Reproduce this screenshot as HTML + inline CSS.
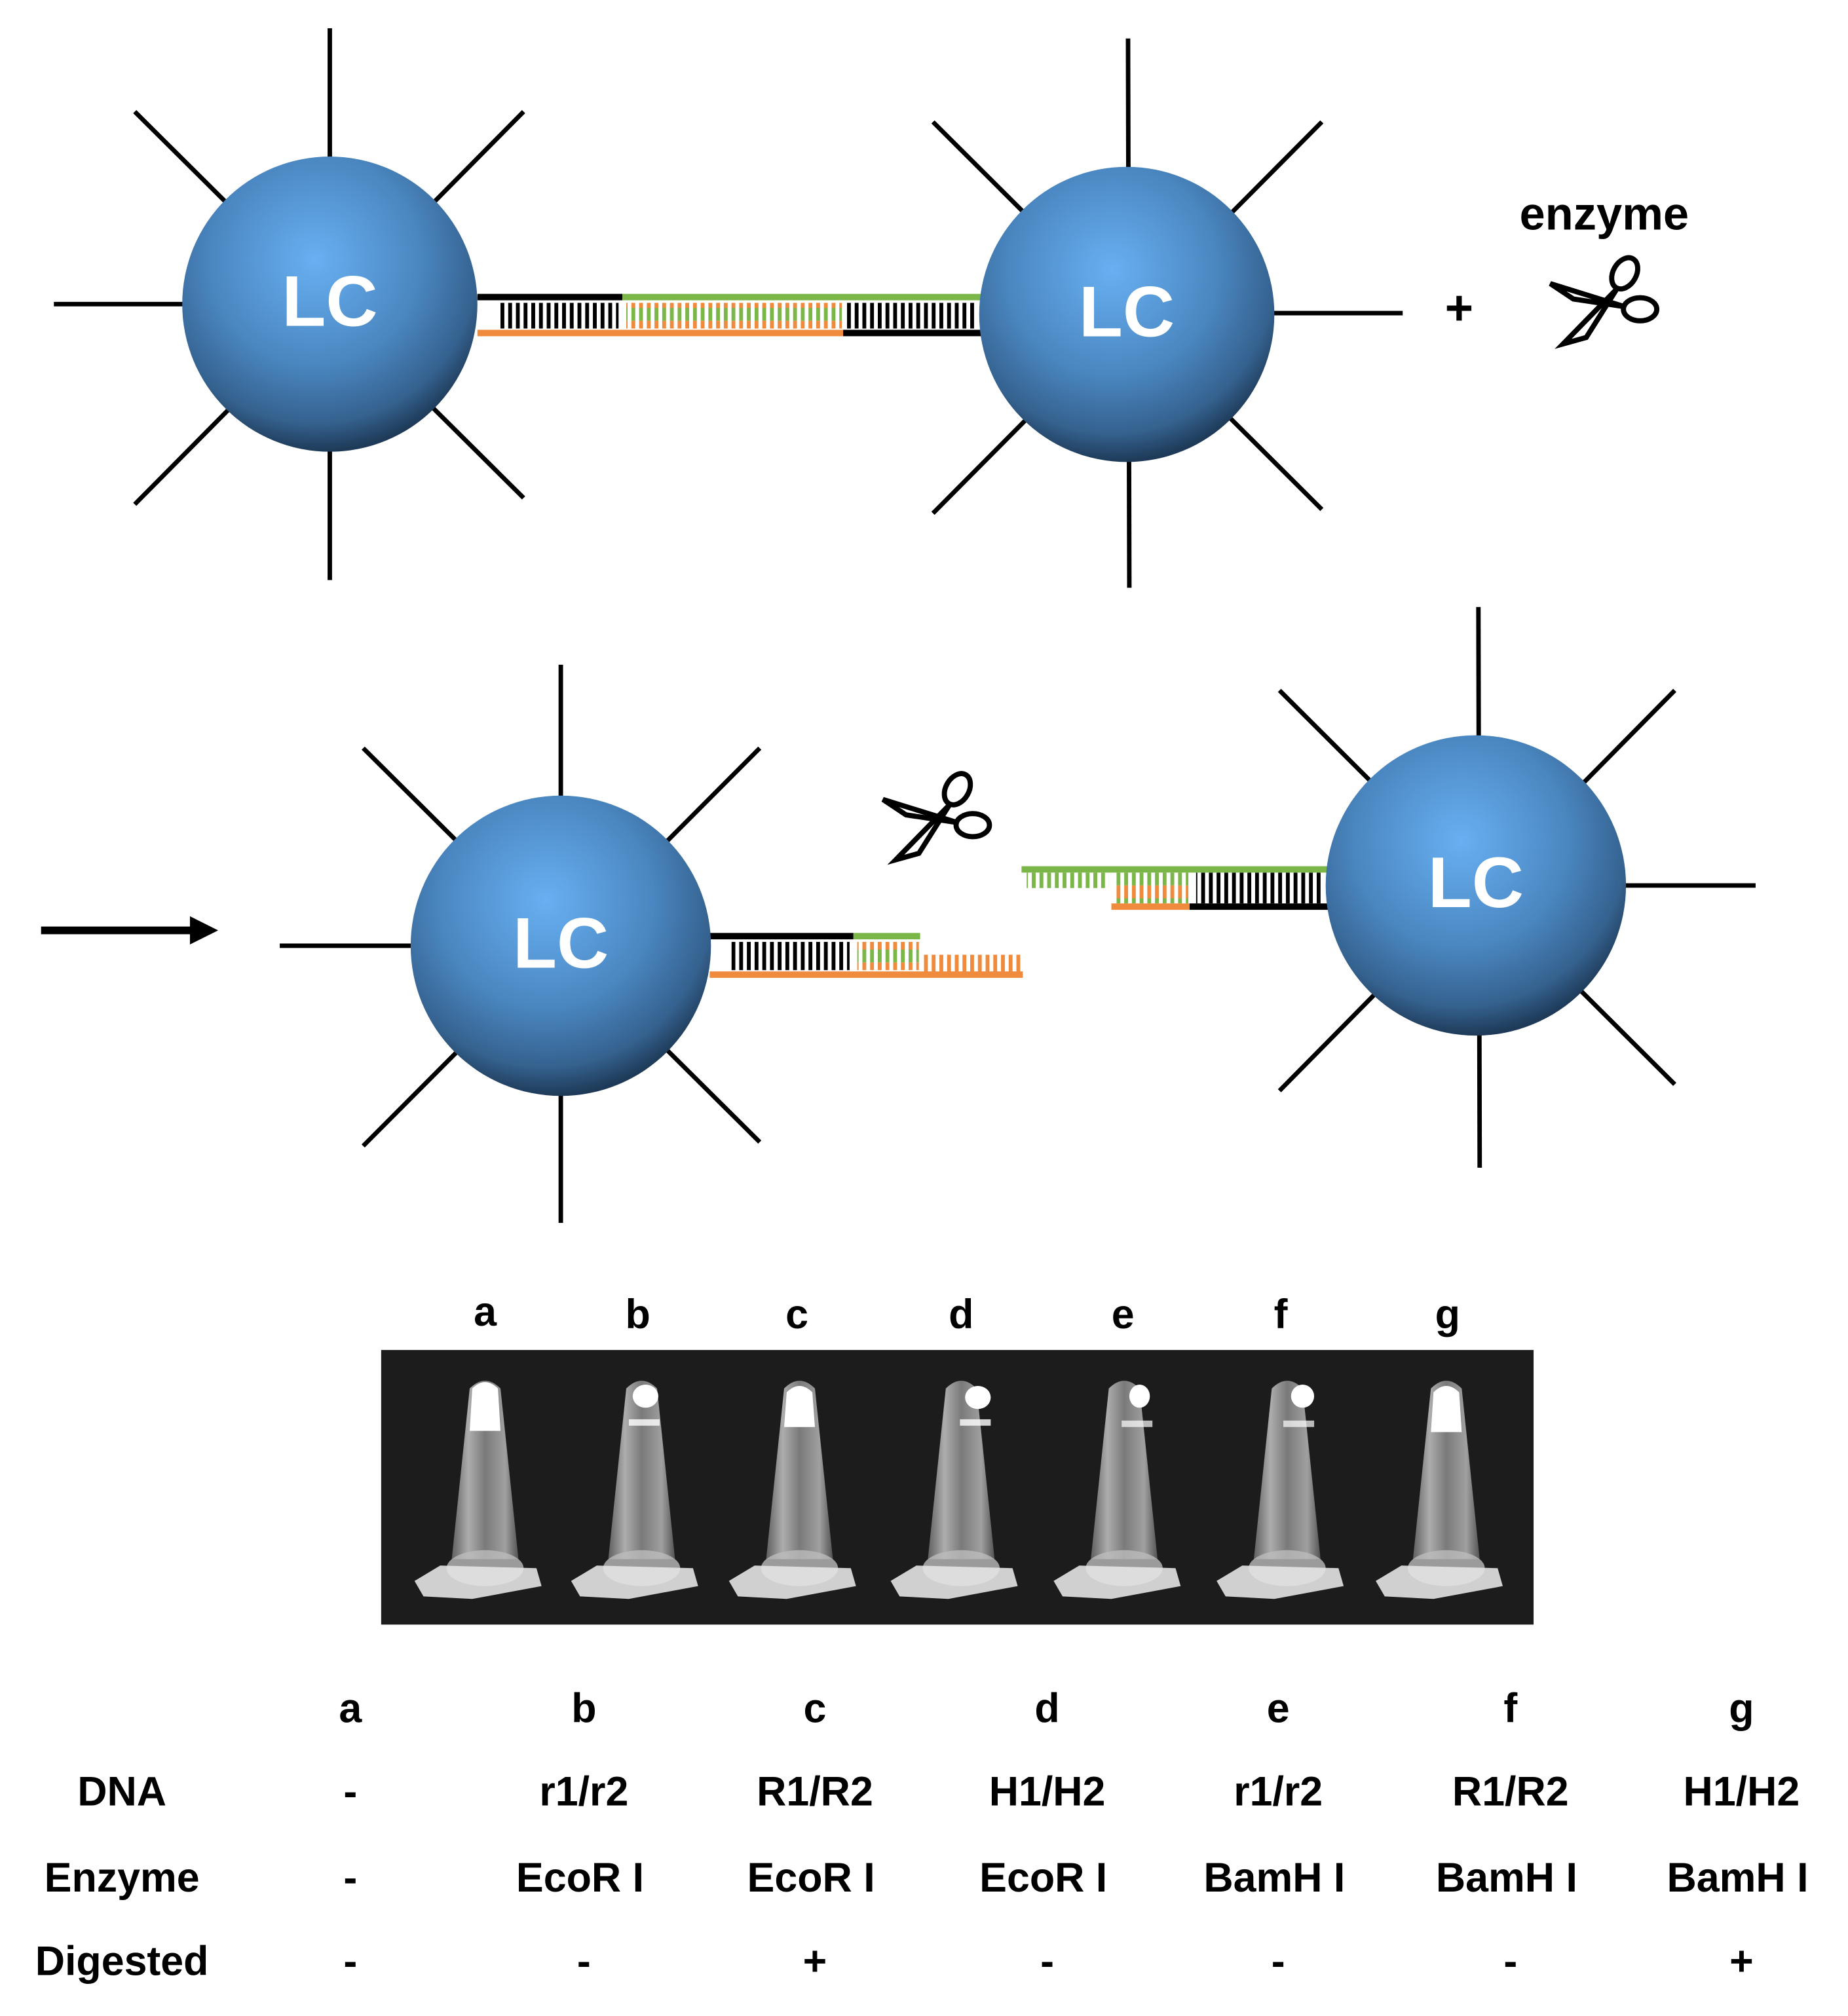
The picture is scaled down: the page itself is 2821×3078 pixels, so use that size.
<!DOCTYPE html>
<html><head><meta charset="utf-8"><style>
html,body{margin:0;padding:0;background:#fff}
svg{display:block}
text{font-family:"Liberation Sans",sans-serif;font-weight:bold}
</style></head><body>
<svg width="2821" height="3078" viewBox="0 0 1440 1571" preserveAspectRatio="none" xmlns="http://www.w3.org/2000/svg">
<defs>
<radialGradient id="sg" cx="0.45" cy="0.35" r="0.65">
<stop offset="0" stop-color="#68b0f2"/>
<stop offset="0.55" stop-color="#4a86c0"/>
<stop offset="0.85" stop-color="#35628f"/>
<stop offset="1" stop-color="#1e3a58"/>
</radialGradient>
<pattern id="rk" width="6" height="20" patternUnits="userSpaceOnUse"><rect x="0" width="3" height="20" fill="#000"/></pattern>
<pattern id="rg" width="6" height="20" patternUnits="userSpaceOnUse"><rect x="0" width="3" height="10" fill="#7ab648"/><rect x="0" y="10" width="3" height="10" fill="#f08a3c"/></pattern>
<pattern id="rgo" width="6" height="14" patternUnits="userSpaceOnUse"><rect x="0" width="3" height="14" fill="#7ab648"/></pattern>
<pattern id="roo" width="6" height="14" patternUnits="userSpaceOnUse"><rect x="0" width="3" height="14" fill="#f08a3c"/></pattern>
<linearGradient id="tube" x1="0" x2="1"><stop offset="0" stop-color="#777"/><stop offset="0.25" stop-color="#ddd"/><stop offset="0.5" stop-color="#999"/><stop offset="0.8" stop-color="#ccc"/><stop offset="1" stop-color="#666"/></linearGradient>
<g id="sc" fill="none" stroke="#000" stroke-width="4">
<ellipse cx="18" cy="-20" rx="9" ry="13" transform="rotate(30 18 -20)"/>
<ellipse cx="30" cy="8" rx="13" ry="9"/>
<path d="M-40 -12 L18 6 L-22 0 Z" fill="#fff"/>
<path d="M-30 35 L12 -8 L-12 30 Z" fill="#fff"/>
</g>
<g id="t">
<path d="M-12 1082 Q0 1070 12 1082 L26 1215 L-26 1215 Z" fill="url(#tube)" opacity="0.75"/>
<ellipse cx="0" cy="1222" rx="30" ry="14" fill="#bbb" opacity="0.8"/>
<path d="M-55 1232 L-35 1220 L40 1222 L44 1236 L-10 1246 L-48 1244 Z" fill="#e4e4e4" opacity="0.9"/>
</g>
</defs>

<g stroke="#000" stroke-width="3.5">
<line x1="257" y1="22" x2="257" y2="452"/><line x1="42" y1="237" x2="150" y2="237"/>
<line x1="105" y1="87" x2="408" y2="388"/><line x1="408" y1="87" x2="105" y2="393"/>
<line x1="879" y1="30" x2="880" y2="458"/><line x1="990" y1="244" x2="1093" y2="244"/>
<line x1="727" y1="95" x2="1030" y2="397"/><line x1="1030" y1="95" x2="727" y2="400"/>
<line x1="437" y1="518" x2="437" y2="953"/><line x1="218" y1="737" x2="330" y2="737"/>
<line x1="283" y1="583" x2="592" y2="890"/><line x1="592" y1="583" x2="283" y2="893"/>
<line x1="1152" y1="473" x2="1153" y2="910"/><line x1="1260" y1="690" x2="1368" y2="690"/>
<line x1="997" y1="538" x2="1305" y2="845"/><line x1="1305" y1="538" x2="997" y2="850"/>
</g>

<rect x="388" y="236" width="94" height="20" fill="url(#rk)"/>
<rect x="488" y="236" width="168" height="20" fill="url(#rg)"/>
<rect x="660" y="236" width="100" height="20" fill="url(#rk)"/>
<rect x="372" y="229" width="113" height="5" fill="#000"/>
<rect x="485" y="229" width="280" height="5" fill="#7ab648"/>
<rect x="372" y="257" width="285" height="5" fill="#f08a3c"/>
<rect x="657" y="257" width="108" height="5" fill="#000"/>

<rect x="570" y="734" width="92" height="22" fill="url(#rk)"/>
<rect x="668" y="734" width="48" height="22" fill="url(#rg)"/>
<rect x="720" y="744" width="75" height="14" fill="url(#roo)"/>
<rect x="553" y="727" width="112" height="5" fill="#000"/>
<rect x="665" y="727" width="52" height="5" fill="#7ab648"/>
<rect x="553" y="757" width="244" height="5" fill="#f08a3c"/>

<rect x="800" y="680" width="64" height="12" fill="url(#rgo)"/>
<rect x="870" y="680" width="56" height="24" fill="url(#rg)"/>
<rect x="932" y="680" width="98" height="24" fill="url(#rk)"/>
<rect x="796" y="675" width="239" height="5" fill="#7ab648"/>
<rect x="866" y="704" width="61" height="5" fill="#f08a3c"/>
<rect x="927" y="704" width="108" height="5" fill="#000"/>

<g font-size="56" fill="#fff" text-anchor="middle">
<circle cx="257" cy="237" r="115" fill="url(#sg)"/><text x="257" y="254">LC</text>
<circle cx="878" cy="245" r="115" fill="url(#sg)"/><text x="878" y="262">LC</text>
<circle cx="437" cy="737" r="117" fill="url(#sg)"/><text x="437" y="754">LC</text>
<circle cx="1150" cy="690" r="117" fill="url(#sg)"/><text x="1150" y="707">LC</text>
</g>

<text x="1137" y="253" font-size="38" text-anchor="middle">+</text>
<text x="1250" y="179" font-size="36" text-anchor="middle">enzyme</text>
<use href="#sc" x="1248" y="233"/>
<use href="#sc" x="728" y="635"/>

<line x1="32" y1="725" x2="150" y2="725" stroke="#000" stroke-width="6"/>
<path d="M148 714 L170 725 L148 736 Z" fill="#000"/>

<g font-size="32" text-anchor="middle" fill="#000">
<text x="378" y="1033">a</text><text x="497" y="1035">b</text><text x="621" y="1035">c</text><text x="749" y="1035">d</text><text x="875" y="1035">e</text><text x="998" y="1035">f</text><text x="1128" y="1035">g</text>
</g>
<rect x="297" y="1052" width="898" height="214" fill="#1c1c1c"/>
<g>
<use href="#t" x="378"/><use href="#t" x="500"/><use href="#t" x="623"/><use href="#t" x="749"/><use href="#t" x="876"/><use href="#t" x="1003"/><use href="#t" x="1127"/>
</g>
<g fill="#fff">
<path d="M366 1115 L368 1082 Q378 1072 388 1082 L390 1115 Z"/>
<path d="M611 1112 L613 1085 Q623 1075 633 1085 L635 1112 Z"/>
<path d="M1115 1116 L1117 1085 Q1127 1075 1137 1085 L1139 1116 Z"/>
<ellipse cx="503" cy="1088" rx="10" ry="9"/><ellipse cx="762" cy="1089" rx="10" ry="9"/><ellipse cx="888" cy="1088" rx="8" ry="9"/><ellipse cx="1015" cy="1088" rx="9" ry="9"/>
<rect x="490" y="1106" width="24" height="5" opacity="0.8"/><rect x="748" y="1106" width="24" height="5" opacity="0.8"/><rect x="874" y="1107" width="24" height="5" opacity="0.7"/><rect x="1000" y="1107" width="24" height="5" opacity="0.7"/>
</g>

<g font-size="32" text-anchor="middle" fill="#000">
<text x="273" y="1342">a</text><text x="455" y="1342">b</text><text x="635" y="1342">c</text><text x="816" y="1342">d</text><text x="996" y="1342">e</text><text x="1177" y="1342">f</text><text x="1357" y="1342">g</text>
<text x="95" y="1407">DNA</text><text x="273" y="1407">-</text><text x="455" y="1407">r1/r2</text><text x="635" y="1407">R1/R2</text><text x="816" y="1407">H1/H2</text><text x="996" y="1407">r1/r2</text><text x="1177" y="1407">R1/R2</text><text x="1357" y="1407">H1/H2</text>
<text x="95" y="1474">Enzyme</text><text x="273" y="1474">-</text><text x="452" y="1474">EcoR I</text><text x="632" y="1474">EcoR I</text><text x="813" y="1474">EcoR I</text><text x="993" y="1474">BamH I</text><text x="1174" y="1474">BamH I</text><text x="1354" y="1474">BamH I</text>
<text x="95" y="1539">Digested</text><text x="273" y="1539">-</text><text x="455" y="1539">-</text><text x="635" y="1539">+</text><text x="816" y="1539">-</text><text x="996" y="1539">-</text><text x="1177" y="1539">-</text><text x="1357" y="1539">+</text>
</g>
</svg>
</body></html>
